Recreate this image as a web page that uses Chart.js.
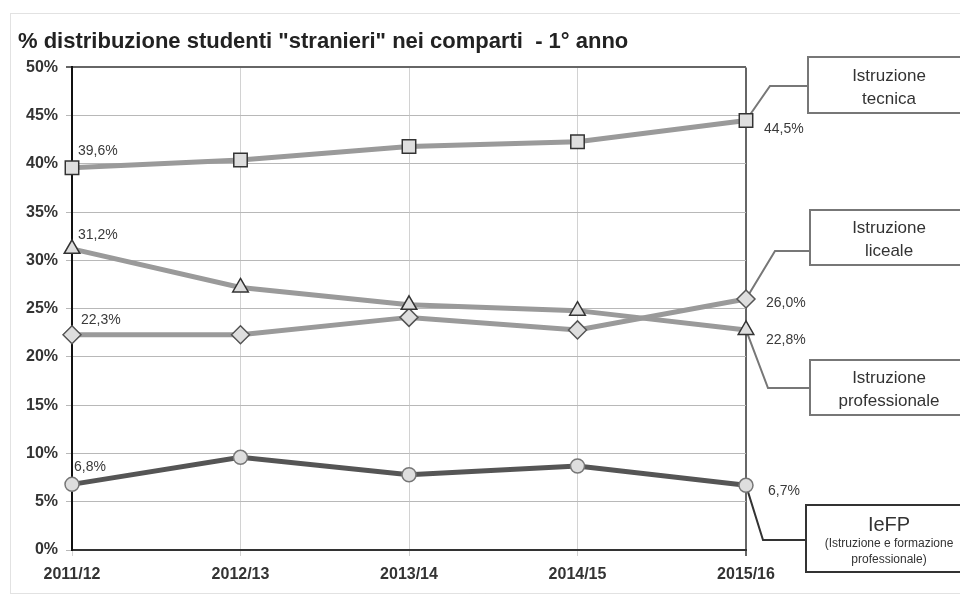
<!DOCTYPE html>
<html>
<head>
<meta charset="utf-8">
<script src="https://cdn.jsdelivr.net/npm/chart.js@4"></script>
<style>
  body { margin: 0; background: #fff; }
</style>
</head>
<body>
<canvas id="myChart" width="960" height="602"></canvas>
<script>
const categories = ["2011/12", "2012/13", "2013/14", "2014/15", "2015/16"];
const seriesNames = ["IeFP", "Istruzione tecnica", "Istruzione professionale", "Istruzione liceale"];
const iefp = [6.8, 9.6, 7.8, 8.7, 6.7];
const tecnica = [39.6, 40.4, 41.8, 42.3, 44.5];
const professionale = [31.2, 27.2, 25.4, 24.8, 22.8];
const liceale = [22.3, 22.3, 24.1, 22.8, 26.0];
const yMin = 0;
const yMax = 50;
const yStep = 5;

const fmt = (v) => v.toFixed(1).replace(".", ",") + "%";

// layout of labels and callout boxes, one entry per dataset
const callouts = [
  { first: [2, -17], last: [22, 6], elbow: [763, 540], box: [806, 505, 164, 67], border: "#333",
    lines: [["IeFP", "20px 'Liberation Sans'", 525], ["(Istruzione e formazione", "12px 'Liberation Sans'", 544], ["professionale)", "12px 'Liberation Sans'", 560]] },
  { first: [6, -17], last: [18, 9], elbow: [770, 86], box: [808, 57, 162, 56], border: "#777",
    lines: [["Istruzione", "17px 'Liberation Sans'", 76], ["tecnica", "17px 'Liberation Sans'", 99]] },
  { first: [6, -14], last: [20, 10], elbow: [768, 388], box: [810, 360, 160, 55], border: "#777",
    lines: [["Istruzione", "17px 'Liberation Sans'", 378], ["professionale", "17px 'Liberation Sans'", 401]] },
  { first: [9, -15], last: [20, 4], elbow: [775, 251], box: [810, 210, 160, 55], border: "#777",
    lines: [["Istruzione", "17px 'Liberation Sans'", 228], ["liceale", "17px 'Liberation Sans'", 251]] },
];

const calloutPlugin = {
  id: "callouts",
  beforeDraw(chart) {
    const c = chart.ctx;
    c.save();
    c.strokeStyle = "#c4c4c4";
    c.lineWidth = 1;
    c.setLineDash([1, 1]);
    c.strokeRect(10.5, 13.5, 980, 580);
    c.restore();
  },
  beforeDatasetsDraw(chart) {
    // leader lines go under the markers
    const c = chart.ctx;
    c.save();
    chart.data.datasets.forEach((ds, i) => {
      const pts = chart.getDatasetMeta(i).data;
      const cfg = callouts[i];
      const pN = pts[pts.length - 1];
      c.strokeStyle = cfg.border;
      c.lineWidth = 2;
      c.beginPath();
      c.moveTo(pN.x, pN.y);
      c.lineTo(cfg.elbow[0], cfg.elbow[1]);
      c.lineTo(cfg.box[0], cfg.elbow[1]);
      c.stroke();
    });
    c.restore();
  },
  afterDatasetsDraw(chart) {
    const c = chart.ctx;
    c.save();
    chart.data.datasets.forEach((ds, i) => {
      const pts = chart.getDatasetMeta(i).data;
      const cfg = callouts[i];
      const p0 = pts[0];
      const pN = pts[pts.length - 1];
      // value labels
      c.font = "14px 'Liberation Sans'";
      c.fillStyle = "#3a3a3a";
      c.textAlign = "left";
      c.textBaseline = "middle";
      c.fillText(fmt(ds.data[0]), p0.x + cfg.first[0], p0.y + cfg.first[1]);
      c.fillText(fmt(ds.data[ds.data.length - 1]), pN.x + cfg.last[0], pN.y + cfg.last[1]);
      // box
      const [bx, by, bw, bh] = cfg.box;
      c.strokeStyle = cfg.border;
      c.lineWidth = 2;
      c.fillStyle = "#fff";
      c.fillRect(bx, by, bw, bh);
      c.strokeRect(bx, by, bw, bh);
      c.fillStyle = "#333";
      c.textAlign = "center";
      cfg.lines.forEach(([txt, font, y]) => {
        c.font = font;
        c.fillText(txt, 889, y);
      });
    });
    c.restore();
  },
};

const ctx = document.getElementById("myChart").getContext("2d");

const lightLine = "#9a9a9a";
const markerFill = "#dedede";

const chart = new Chart(ctx, {
  type: "line",
  data: {
    labels: categories,
    datasets: [
      {
        label: seriesNames[0],
        data: iefp,
        borderColor: "#555",
        borderWidth: 5,
        pointStyle: "circle",
        pointRadius: 7,
        pointBackgroundColor: markerFill,
        pointBorderColor: "#777",
        pointBorderWidth: 1.5,
      },
      {
        label: seriesNames[1],
        data: tecnica,
        borderColor: lightLine,
        borderWidth: 5,
        pointStyle: "rect",
        pointRadius: 9.5,
        pointBackgroundColor: markerFill,
        pointBorderColor: "#333",
        pointBorderWidth: 1.5,
      },
      {
        label: seriesNames[2],
        data: professionale,
        borderColor: lightLine,
        borderWidth: 5,
        pointStyle: "triangle",
        pointRadius: 9,
        pointBackgroundColor: markerFill,
        pointBorderColor: "#333",
        pointBorderWidth: 1.5,
      },
      {
        label: seriesNames[3],
        data: liceale,
        borderColor: lightLine,
        borderWidth: 5,
        pointStyle: "rectRot",
        pointRadius: 9,
        pointBackgroundColor: markerFill,
        pointBorderColor: "#555",
        pointBorderWidth: 1.5,
      },
    ],
  },
  options: {
    responsive: false,
    animation: false,
    layout: {
      padding: { top: 3, left: 18, right: 214, bottom: 12 },
    },
    plugins: {
      legend: { display: false },
      tooltip: { enabled: false },
      title: {
        display: true,
        text: '% distribuzione studenti "stranieri" nei comparti  - 1° anno',
        align: "start",
        color: "#222",
        font: { family: "'Liberation Sans'", size: 22, weight: "bold" },
        padding: { top: 26, bottom: 12 },
      },
    },
    scales: {
      x: {
        offset: false,
        afterFit: (s) => { s.height = 40; },
        grid: {
          color: (c) => (c.index === categories.length - 1 ? "#666" : "#d2d2d2"),
          lineWidth: (c) => (c.index === categories.length - 1 ? 2 : 1),
          tickLength: 6,
        },
        border: { color: "#333", width: 2 },
        ticks: {
          color: "#333",
          padding: 9,
          maxRotation: 0,
          font: { family: "'Liberation Sans'", size: 16, weight: "bold" },
        },
      },
      y: {
        min: yMin,
        max: yMax,
        afterFit: (s) => { s.width = 54; },
        grid: {
          color: (c) => (c.tick && c.tick.value === yMax ? "#666" : "#b8b8b8"),
          lineWidth: (c) => (c.tick && c.tick.value === yMax ? 2 : 1),
          tickLength: 6,
        },
        border: { color: "#111", width: 2 },
        ticks: {
          stepSize: yStep,
          color: "#333",
          padding: 8,
          callback: (v) => v + "%",
          font: { family: "'Liberation Sans'", size: 16, weight: "bold" },
        },
      },
    },
  },
  plugins: [calloutPlugin],
});
</script>
</body>
</html>
